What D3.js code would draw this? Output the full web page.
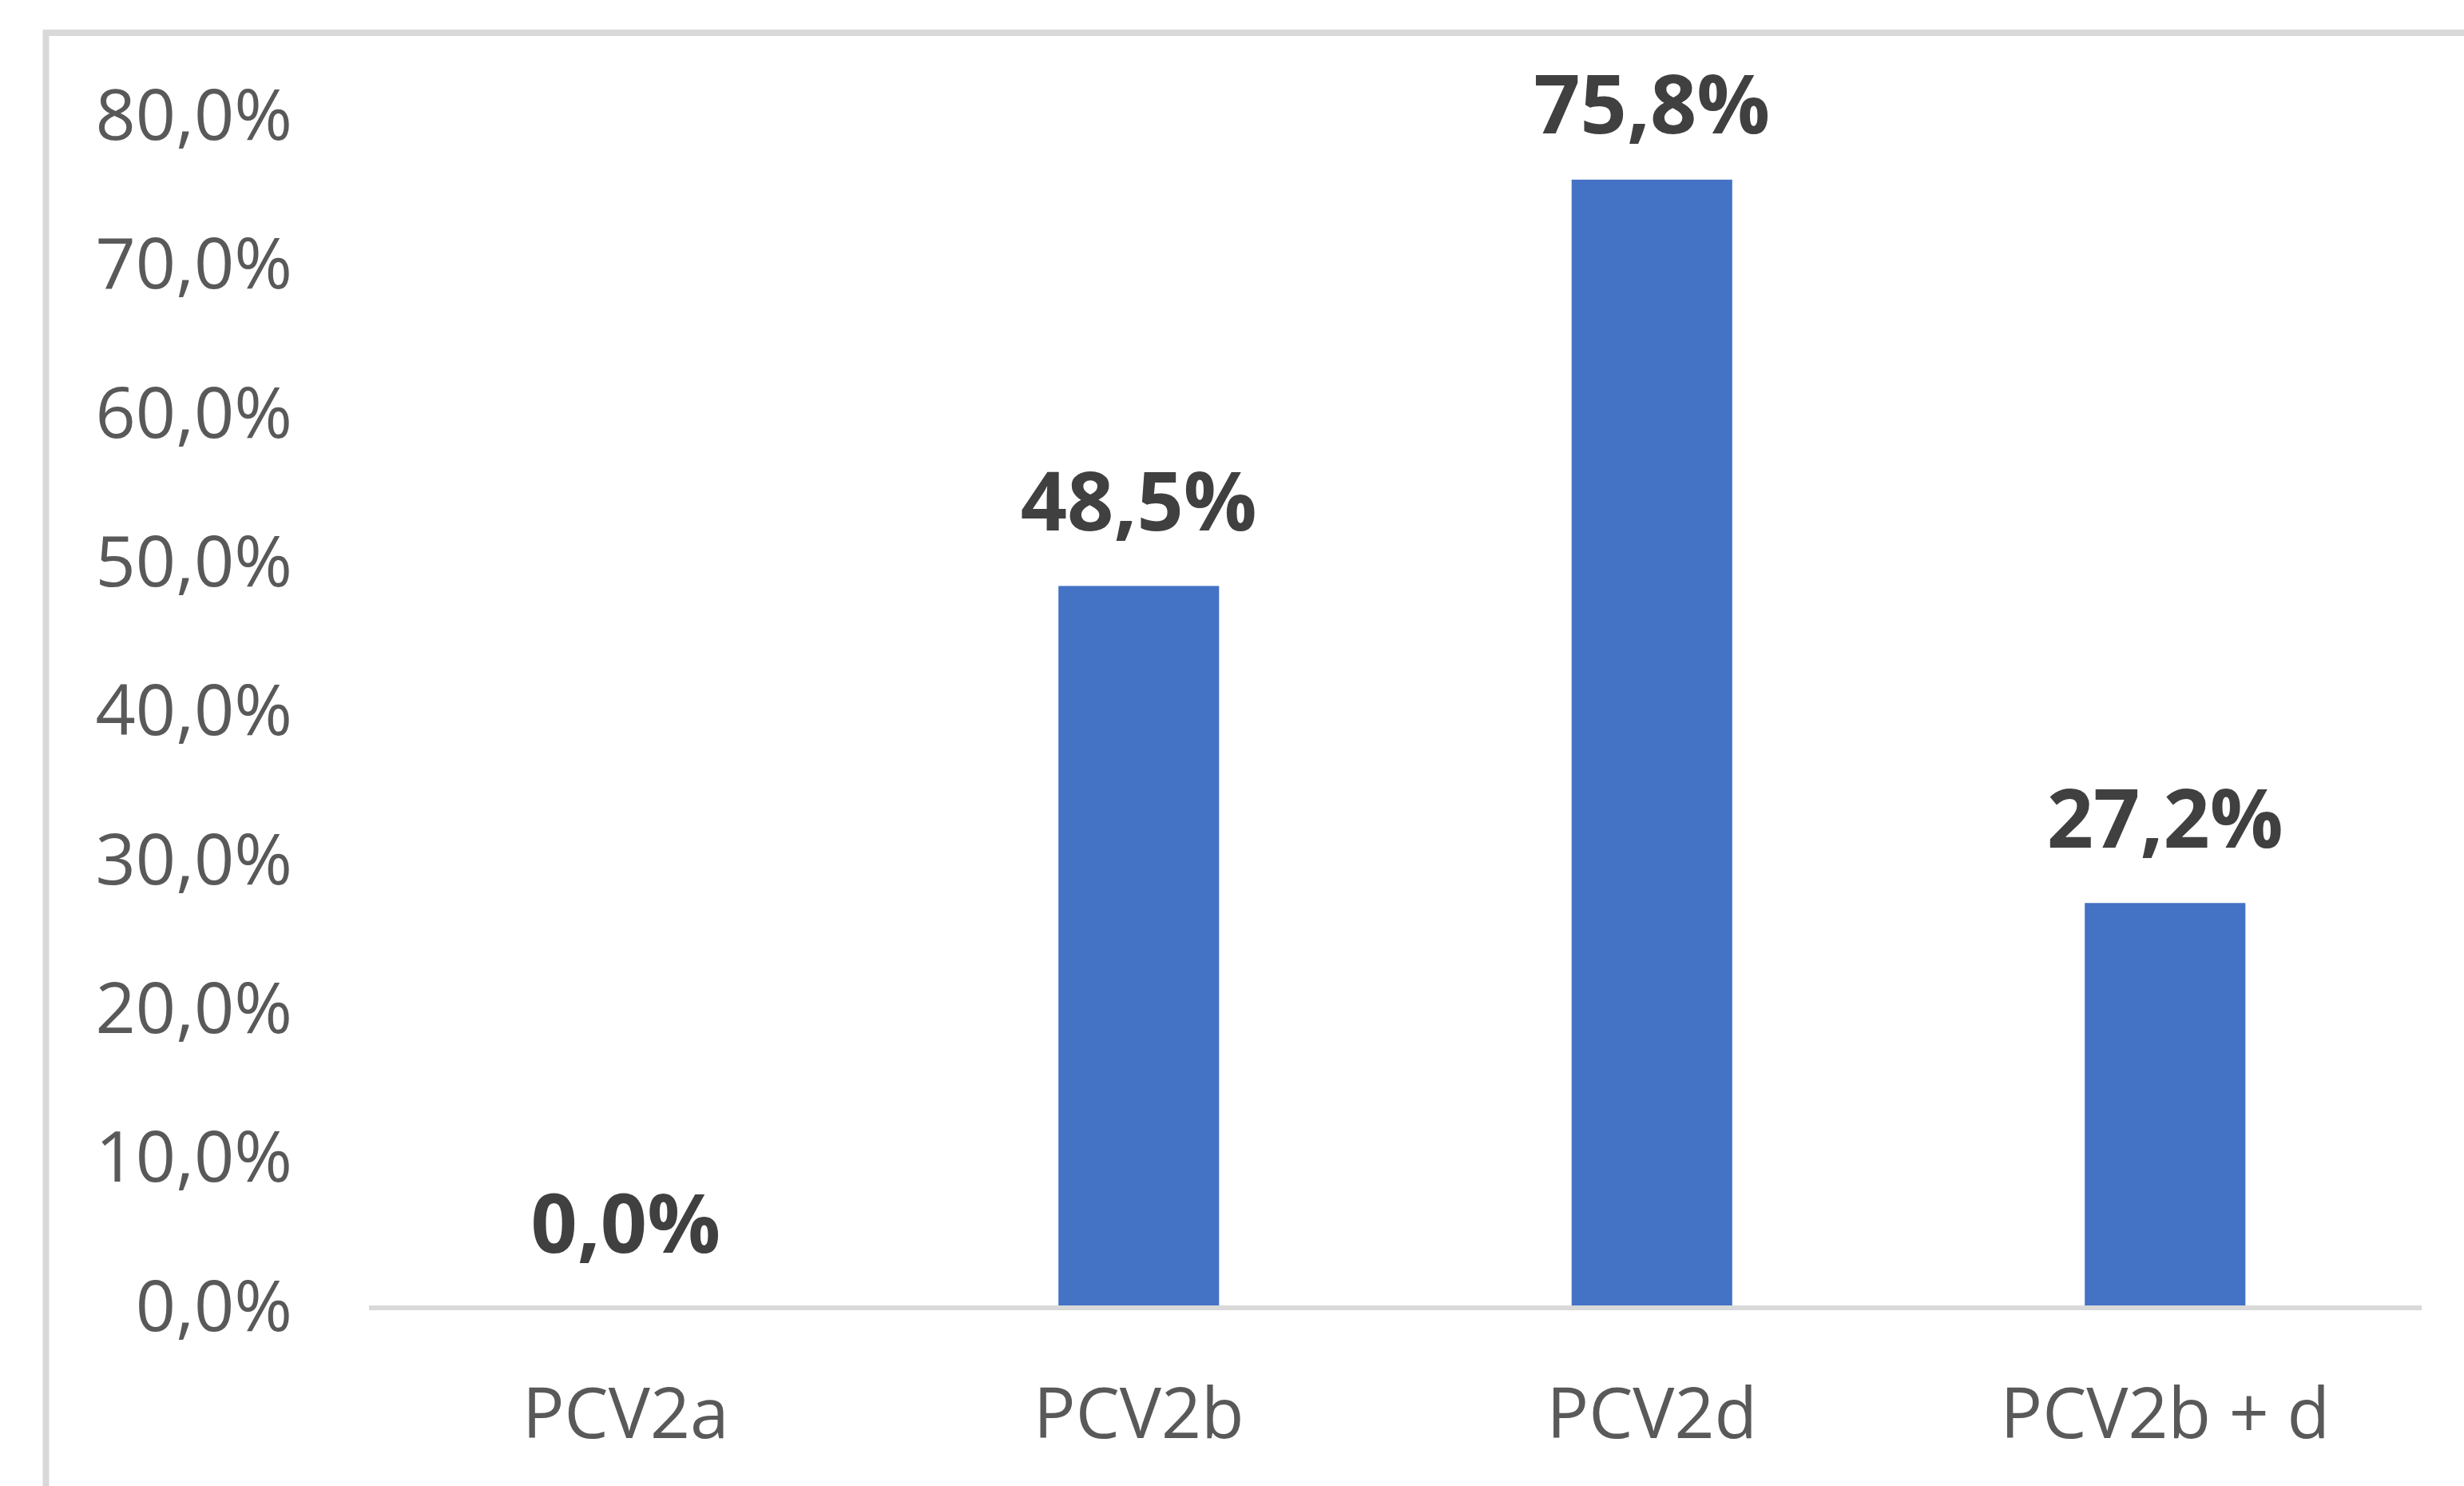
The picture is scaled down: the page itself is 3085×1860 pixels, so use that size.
<!DOCTYPE html>
<html>
<head>
<meta charset="utf-8">
<script src="https://cdn.jsdelivr.net/npm/d3@7"></script>
<style>
  html, body { margin: 0; padding: 0; background: #ffffff; }
  svg { display: block; }
</style>
</head>
<body>
<div id="chart"></div>
<script>
const categories = ["PCV2a", "PCV2b", "PCV2d", "PCV2b + d"];
const values = [0.0, 48.5, 75.8, 27.2];
const yTicks = [0, 10, 20, 30, 40, 50, 60, 70, 80];

const W = 3085, H = 1860;
const fmt = v => v.toFixed(1).replace(".", ",") + "%";

const svg = d3.select("#chart").append("svg")
  .attr("width", W).attr("height", H)
  .style("font-family", "'Open Sans', 'Noto Sans', sans-serif");

svg.append("rect").attr("width", W).attr("height", H).attr("fill", "#ffffff");

// chart frame (cropped on right/bottom)
svg.append("rect")
  .attr("x", 57.5).attr("y", 41)
  .attr("width", W + 100).attr("height", H + 100)
  .attr("fill", "none").attr("stroke", "#d9d9d9").attr("stroke-width", 8);

const x = d3.scaleBand()
  .domain(categories)
  .range([462, 3032])
  .paddingInner(0.687)
  .paddingOuter(0.3435);

const y = d3.scaleLinear().domain([0, 80]).range([1637, 146.6]);

// y axis labels
const yAxis = d3.axisLeft(y).tickValues(yTicks).tickFormat(fmt).tickSize(0).tickPadding(0);
const yg = svg.append("g").attr("transform", "translate(366,0)").call(yAxis);
yg.select(".domain").remove();
yg.selectAll("text")
  .attr("font-size", 88)
  .attr("fill", "#595959")
  .attr("dy", null)
  .attr("y", 28)
  .attr("font-family", "'Open Sans', 'Noto Sans', sans-serif");

// bars
svg.append("g").selectAll("rect")
  .data(values)
  .join("rect")
  .attr("x", (d, i) => x(categories[i]))
  .attr("width", x.bandwidth())
  .attr("y", d => y(d))
  .attr("height", d => y(0) - y(d))
  .attr("fill", "#4472c4");

// x axis line + labels
const xAxis = d3.axisBottom(x).tickSize(0).tickPadding(0);
const xg = svg.append("g").attr("transform", `translate(0,${y(0)})`).call(xAxis);
xg.select(".domain")
  .attr("d", `M${x.range()[0]},0H${x.range()[1]}`)
  .attr("stroke", "#d9d9d9").attr("stroke-width", 6);
xg.selectAll("text")
  .attr("font-size", 87.5)
  .attr("fill", "#595959")
  .attr("dy", null)
  .attr("y", 163)
  .attr("font-family", "'Open Sans', 'Noto Sans', sans-serif");

// value labels (kept inside the chart area near the top, as the original does)
const labelTopLimit = 167;
svg.append("g").selectAll("text")
  .data(values)
  .join("text")
  .attr("x", (d, i) => x(categories[i]) + x.bandwidth() / 2)
  .attr("y", d => Math.max(y(d) - 69, labelTopLimit))
  .attr("text-anchor", "middle")
  .attr("font-size", 102)
  .attr("font-weight", "bold")
  .attr("fill", "#404040")
  .text(d => fmt(d));
</script>
</body>
</html>
